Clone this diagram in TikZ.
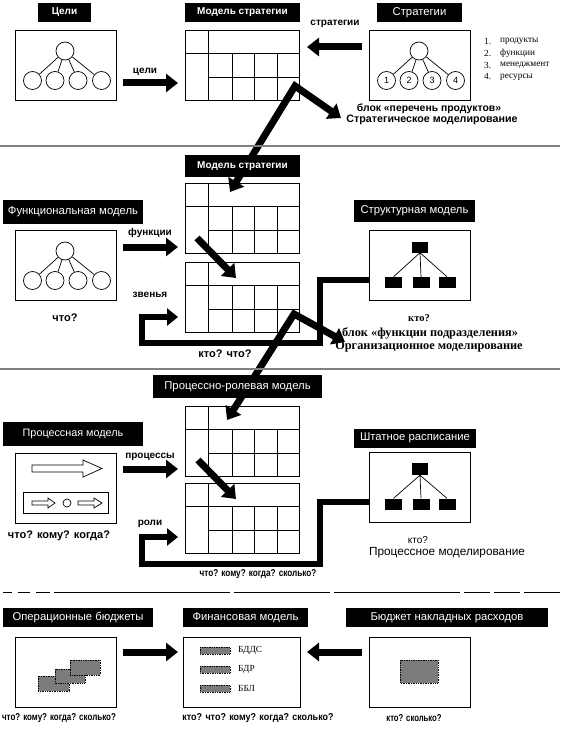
\documentclass[tikz,border=0pt]{standalone}
\usepackage{fontspec}
\usepackage{graphicx}
\setmainfont{Liberation Sans}
\newfontfamily\srf{Liberation Serif}
\usetikzlibrary{arrows.meta}
\definecolor{midgray}{HTML}{7C7C7C}
\definecolor{sepgray}{HTML}{808080}
\newcommand\fs[1]{\fontsize{#1}{#1}\selectfont}
\newcommand\nar[2]{\scalebox{#1}[1]{#2}}
\newcommand\stgrid[1]{%
  \begin{scope}[shift={(#1.north west)}]
    \draw[grd] (23,0) -- (23,70) (0,23) -- (114,23) (23,47) -- (114,47)
      (47,23) -- (47,70) (69,23) -- (69,70) (92,23) -- (92,70);
  \end{scope}}
\begin{document}
\begin{tikzpicture}[x=1pt,y=-1pt,
  hdr/.style={fill=black,text=white,inner sep=0pt,minimum height=19pt,font=\fs{11.3}},
  hdrb/.style={hdr,font=\bfseries\fs{10}},
  box/.style={draw=black,line width=0.9pt,inner sep=0pt,outer sep=0pt,minimum width=101pt,minimum height=70pt},
  tbl/.style={draw=black,line width=0.9pt,inner sep=0pt,outer sep=0pt,minimum width=114pt,minimum height=70pt},
  grd/.style={line width=0.8pt},
  circ/.style={circle,draw,line width=0.7pt,minimum size=18pt,inner sep=0pt,font=\fs{9}},
  orgr/.style={fill=black,inner sep=0pt,minimum width=17pt,minimum height=11pt},
  fat/.style={line width=7pt,-{Triangle[length=12pt,width=18pt]}},
  fat2/.style={line width=7pt,line join=miter,{Triangle[length=12pt,width=18pt]}-{Triangle[length=12pt,width=18pt]}},
  bent/.style={line width=6.5pt,line join=miter,-{Triangle[length=11pt,width=17pt]}},
  albl/.style={font=\bfseries\fs{10},inner sep=0pt},
  qlbl/.style={font=\bfseries\fs{10},inner sep=0pt},
  lst/.style={font=\srf\fs{9.3},inner sep=0pt,anchor=west},
  grect/.style={fill=midgray,draw=black,densely dotted,line width=0.7pt},
  sep/.style={sepgray,line width=1.8pt},
  thin/.style={line width=0.7pt}
]
\useasboundingbox (0,0) rectangle (560,730);

% ---------------- section 1 ----------------
\node[hdrb,minimum width=53pt] (hCeli) at (64.5,12.5) {Цели};
\node[hdrb,minimum width=115pt] (hMS1) at (242.5,12.5) {Модель стратегии};
\node[hdr,minimum width=85pt] (hStr) at (419.5,12.5) {Стратегии};

\node[box] (bCeli) at (65.5,65) {};
\node[circ] (c0) at (65,51) {};
\node[circ] (c1) at (32.5,80.5) {};
\node[circ] (c2) at (55,80.5) {};
\node[circ] (c3) at (78,80.5) {};
\node[circ] (c4) at (101.5,80.5) {};
\draw[thin] (c0) -- (c1) (c0) -- (c2) (c0) -- (c3) (c0) -- (c4);

\node[tbl] (t1) at (242,65) {};
\stgrid{t1}

\node[box] (bStr) at (419.5,65) {};
\node[circ] (s0) at (419,51) {};
\node[circ] (s1) at (386.5,80.5) {1};
\node[circ] (s2) at (409,80.5) {2};
\node[circ] (s3) at (432,80.5) {3};
\node[circ] (s4) at (455.5,80.5) {4};
\draw[thin] (s0) -- (s1) (s0) -- (s2) (s0) -- (s3) (s0) -- (s4);

\node[lst] (n1) at (484,41) {1.};
\node[lst] (n2) at (484,53) {2.};
\node[lst] (n3) at (484,65) {3.};
\node[lst] (n4) at (484,77) {4.};
\node[lst] (l1) at (500,41) {продукты};
\node[lst] (l2) at (500,53) {функции};
\node[lst] (l3) at (500,65) {менеджмент};
\node[lst] (l4) at (500,77) {ресурсы};

\node[albl] (lCeli) at (145,72) {цели};
\node[albl] (lStr) at (335,24) {стратегии};
\coordinate (a1s) at (123,83);
\coordinate (a1e) at (178,83);
\draw[fat] (a1s) -- (a1e);
\coordinate (a2s) at (362,47);
\coordinate (a2e) at (307,47);
\draw[fat] (a2s) -- (a2e);

\coordinate (z1a) at (230,192);
\coordinate (z1v) at (295,86);
\coordinate (z1b) at (341,118);
\draw[fat2] (z1a) -- (z1v) -- (z1b);

\node[font=\bfseries\fs{10.4},inner sep=0pt] (tb1) at (429,109) {блок «перечень продуктов»};
\node[font=\bfseries\fs{10.7},inner sep=0pt] (tb2) at (432,119.5) {Стратегическое моделирование};

\draw[sep] (0,146) -- (560,146);

% ---------------- section 2 ----------------
\node[hdrb,minimum width=115pt,minimum height=22pt] (hMS2) at (242.5,166) {Модель стратегии};
\node[hdr,minimum width=140pt,minimum height=24pt] (hFun) at (73,212) {Функциональная модель};
\node[hdr,minimum width=121pt,minimum height=22pt] (hStruct) at (414.5,211) {Структурная модель};

\node[box] (bFun) at (65.5,265) {};
\node[circ] (f0) at (65,251) {};
\node[circ] (f1) at (32.5,280.5) {};
\node[circ] (f2) at (55,280.5) {};
\node[circ] (f3) at (78,280.5) {};
\node[circ] (f4) at (101.5,280.5) {};
\draw[thin] (f0) -- (f1) (f0) -- (f2) (f0) -- (f3) (f0) -- (f4);

\node[tbl] (t2a) at (242,218) {};
\stgrid{t2a}
\node[tbl] (t2b) at (242,297) {};
\stgrid{t2b}

\node[box] (bStruct) at (419.5,265) {};
\node[orgr,minimum width=16pt] (o0) at (420,247) {};
\node[orgr] (o1) at (393.5,282.5) {};
\node[orgr] (o2) at (421,282.5) {};
\node[orgr] (o3) at (447,282.5) {};
\draw[thin] (o0.south) -- (o1.north) (o0.south) -- (o2.north) (o0.south) -- (o3.north);

\node[albl] (lFun) at (150,233) {функции};
\node[albl] (lZv) at (150,295) {звенья};
\node[qlbl,font=\bfseries\fs{11}] (q21) at (65,318) {что?};
\node[qlbl,font=\bfseries\fs{11}] (q22) at (225,354) {кто? что?};
\node[font=\srf\bfseries\fs{10.5},inner sep=0pt] (q23) at (419,318) {кто?};
\node[font=\srf\bfseries\fs{12.3},inner sep=0pt] (tb3) at (430,333) {блок «функции подразделения»};
\node[font=\srf\bfseries\fs{12.3},inner sep=0pt] (tb4) at (429,346.5) {Организационное моделирование};

\coordinate (a3s) at (123,247);
\coordinate (a3e) at (178,247);
\draw[fat] (a3s) -- (a3e);
\coordinate (d2s) at (197,238);
\coordinate (d2e) at (236,278);
\draw[fat] (d2s) -- (d2e);

\coordinate (b2s) at (369,280);
\coordinate (b2a) at (320,280);
\coordinate (b2b) at (320,343);
\coordinate (b2c) at (142,343);
\coordinate (b2d) at (142,317);
\coordinate (b2e) at (178,317);
\draw[bent] (b2s) -- (b2a) -- (b2b) -- (b2c) -- (b2d) -- (b2e);

\coordinate (z2a) at (227,420);
\coordinate (z2v) at (294,314);
\coordinate (z2b) at (345,342);
\draw[fat2] (z2a) -- (z2v) -- (z2b);

\draw[sep] (0,369) -- (560,369);

% ---------------- section 3 ----------------
\node[hdr,minimum width=169pt,minimum height=23pt] (hPR) at (237.5,386.5) {Процессно-ролевая модель};
\node[hdr,minimum width=140pt,minimum height=24pt,font=\fs{10.8}] (hProc) at (73,434) {Процессная модель};
\node[hdr,minimum width=122pt] (hShtat) at (415,438) {Штатное расписание};

\node[box] (bProc) at (65.5,488) {};
\draw[thin] (32,465) -- (83,465) -- (83,460) -- (102,468.5) -- (83,477) -- (83,472) -- (32,472) -- cycle;
\draw[thin] (23,492) rectangle (108,513);
\draw[thin] (32,501) -- (48,501) -- (48,498) -- (55,503) -- (48,508) -- (48,505) -- (32,505) -- cycle;
\node[circle,draw,thin,minimum size=8pt,inner sep=0pt] (pc) at (67,503) {};
\draw[thin] (78,501) -- (94,501) -- (94,498) -- (102,503) -- (94,508) -- (94,505) -- (78,505) -- cycle;

\node[tbl] (t3c) at (242,441) {};
\stgrid{t3c}
\node[tbl] (t3d) at (242,518) {};
\stgrid{t3d}

\node[box] (bShtat) at (419.5,487) {};
\node[orgr,minimum width=16pt,minimum height=12pt] (p0) at (420,469) {};
\node[orgr] (p1) at (393.5,504) {};
\node[orgr] (p2) at (421,504) {};
\node[orgr] (p3) at (447,504) {};
\draw[thin] (p0.south) -- (p1.north) (p0.south) -- (p2.north) (p0.south) -- (p3.north);

\node[albl] (lProc) at (150,457) {процессы};
\node[albl] (lRoli) at (150,524) {роли};
\node[qlbl,font=\bfseries\fs{11}] (q31) at (59,536) {что? кому? когда?};
\node[qlbl] (q32) at (258,574) {\nar{0.82}{что? кому? когда? сколько?}};
\node[font=\fs{10},inner sep=0pt] (q33) at (418,540) {кто?};
\node[font=\fs{11.8},inner sep=0pt] (tb5) at (447,553) {Процессное моделирование};

\coordinate (a4s) at (123,469);
\coordinate (a4e) at (178,469);
\draw[fat] (a4s) -- (a4e);
\coordinate (d3s) at (198,460);
\coordinate (d3e) at (236,499);
\draw[fat] (d3s) -- (d3e);

\coordinate (b3s) at (369,502);
\coordinate (b3a) at (320,502);
\coordinate (b3b) at (320,564);
\coordinate (b3c) at (142,564);
\coordinate (b3d) at (142,537);
\coordinate (b3e) at (178,537);
\draw[bent] (b3s) -- (b3a) -- (b3b) -- (b3c) -- (b3d) -- (b3e);

\draw[line width=1pt] (3,592) -- (12,592) (18,592) -- (30,592) (36,592) -- (50,592)
  (54,592) -- (230,592) (234,592) -- (330,592) (334,592) -- (460,592)
  (464,592) -- (490,592) (494,592) -- (520,592) (524,592) -- (560,592);

% ---------------- section 4 ----------------
\node[hdr,minimum width=150pt] (hOp) at (78,617.5) {Операционные бюджеты};
\node[hdr,minimum width=125pt] (hFin) at (245.5,617.5) {Финансовая модель};
\node[hdr,minimum width=202pt] (hNak) at (447,617.5) {Бюджет накладных расходов};

\node[box] (bOp) at (65.5,672) {};
\draw[grect] (38,676) rectangle (69,691);
\draw[grect] (55,669) rectangle (85,683);
\draw[grect] (70,660) rectangle (100,675);

\node[box,minimum width=117pt] (bFin) at (241.5,672) {};
\draw[grect] (200,647) rectangle (230,654);
\draw[grect] (200,666) rectangle (230,673);
\draw[grect] (200,685) rectangle (230,692);
\node[lst] (f1l) at (238,650.5) {БДДС};
\node[lst] (f2l) at (238,669.5) {БДР};
\node[lst] (f3l) at (238,688.5) {ББЛ};

\node[box] (bNak) at (419.5,672) {};
\draw[grect] (400,660) rectangle (438,683);

\coordinate (a5s) at (123,652);
\coordinate (a5e) at (178,652);
\draw[fat] (a5s) -- (a5e);
\coordinate (a6s) at (362,652);
\coordinate (a6e) at (307,652);
\draw[fat] (a6s) -- (a6e);

\node[qlbl] (q41) at (59,718) {\nar{0.8}{что? кому? когда? сколько?}};
\node[qlbl] (q42) at (258,718) {\nar{0.9}{кто? что? кому? когда? сколько?}};
\node[qlbl] (q43) at (414,718) {\nar{0.77}{кто? сколько?}};
\end{tikzpicture}
\end{document}
